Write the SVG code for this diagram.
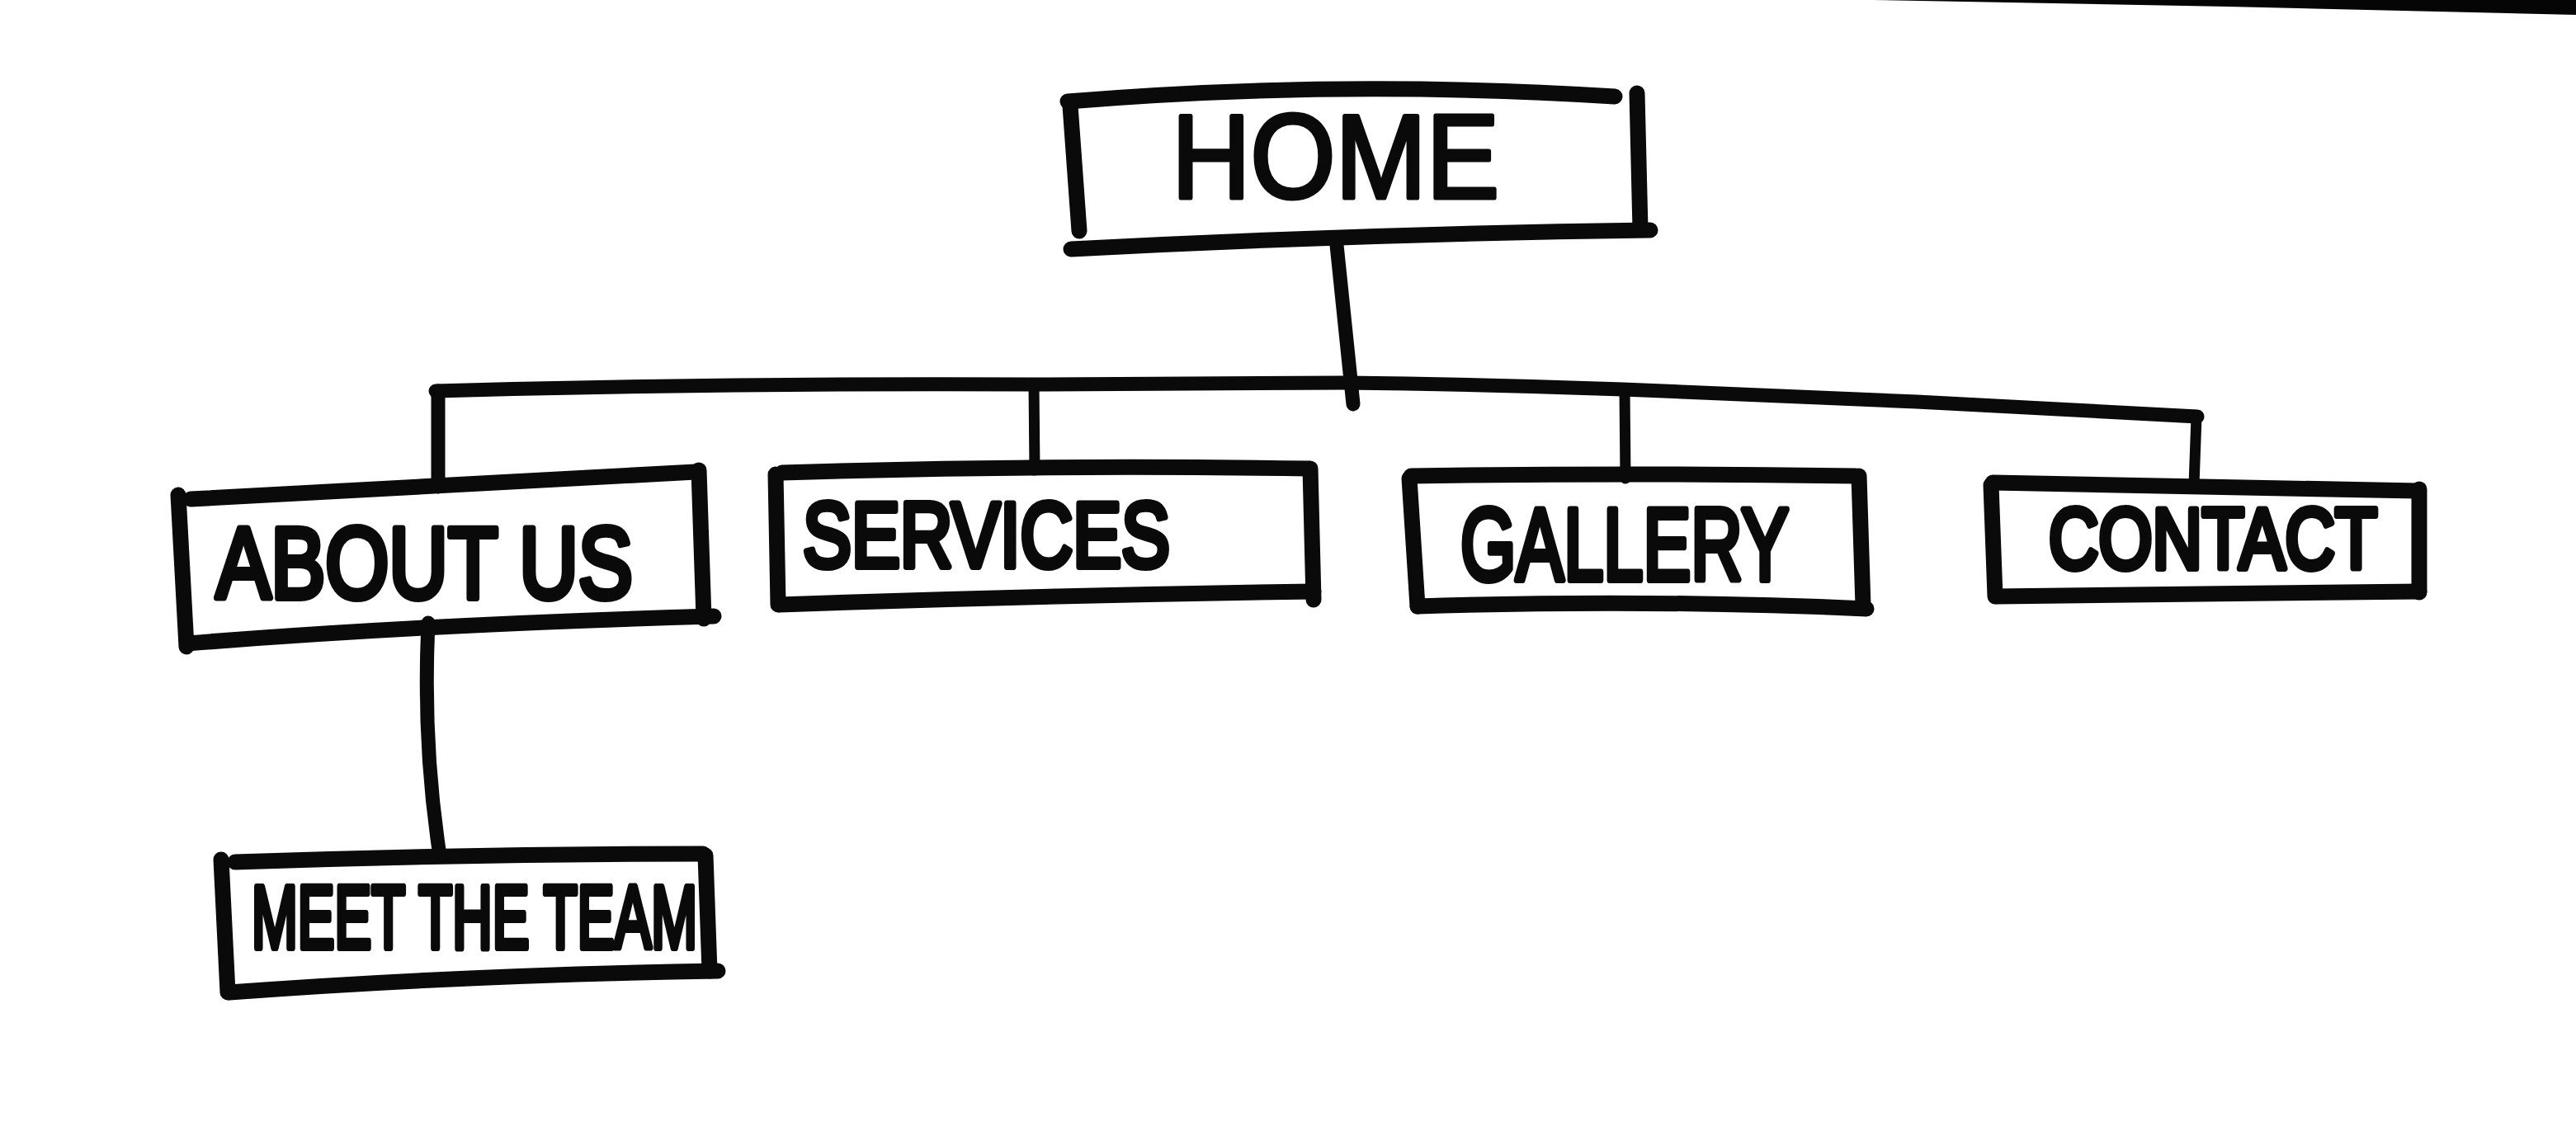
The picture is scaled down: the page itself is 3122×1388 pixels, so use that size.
<svg xmlns="http://www.w3.org/2000/svg" width="3122" height="1388" viewBox="0 0 3122 1388">
<style>
.box{fill:none;stroke:#0a0a0a;stroke-width:19;stroke-linecap:round;stroke-linejoin:round}
.con{fill:none;stroke:#0a0a0a;stroke-width:17;stroke-linecap:round;stroke-linejoin:round}
.thin{stroke-width:13}
.lbl{font-family:"Liberation Sans","DejaVu Sans",sans-serif;font-weight:normal;fill:#0a0a0a;stroke:#0a0a0a;stroke-width:8;stroke-linejoin:round;stroke-linecap:round}
</style>
<rect x="0" y="0" width="3122" height="1388" fill="#ffffff"/>
<polygon points="2270,0 3122,0 3122,18 2700,8" fill="#050505"/>
<g id="connectors">
<path class="con" d="M1620,297 L1640,490"/>
<path class="con" d="M528,474 Q900,464 1253,466 L1630,464 Q1800,466 1967,472 L2323,487 L2663,505"/>
<path class="con" d="M531,474 L531,590"/>
<path class="con thin" d="M1253,466 L1254,570"/>
<path class="con thin" d="M1969,472 L1970,580"/>
<path class="con thin" d="M2662,505 L2659,588"/>
<path class="con" d="M519,755 Q512,900 533,1037"/>
</g>
<g id="home">
<path class="box" d="M1294,123 Q1620,96 1957,117"/>
<path class="box" d="M1984,113 L1988,278"/>
<path class="box" d="M1298,302 Q1640,284 2000,279"/>
<path class="box" d="M1297,128 L1308,280"/>
<text class="lbl" style="stroke-width:5" x="1420" y="240" font-size="145" textLength="397" lengthAdjust="spacingAndGlyphs">HOME</text>
</g>
<g id="about-us">
<path class="box" d="M231,605 Q540,588 843,572"/>
<path class="box" d="M216,600 L226,784"/>
<path class="box" d="M847,570 L853,750"/>
<path class="box" d="M227,780 Q512,757 865,747"/>
<text class="lbl" x="262" y="725" font-size="122" textLength="505" lengthAdjust="spacingAndGlyphs">ABOUT US</text>
</g>
<g id="services">
<path class="box" d="M948,573 Q1260,563 1586,568"/>
<path class="box" d="M940,575 L943,733"/>
<path class="box" d="M1588,568 L1592,727"/>
<path class="box" d="M945,733 Q1260,722 1592,717"/>
<text class="lbl" x="973" y="687" font-size="112" textLength="445" lengthAdjust="spacingAndGlyphs">SERVICES</text>
</g>
<g id="gallery">
<path class="box" d="M1710,577 Q1980,573 2249,577"/>
<path class="box" d="M1708,580 L1718,735"/>
<path class="box" d="M2253,577 L2258,735"/>
<path class="box" d="M1718,735 Q1990,726 2262,738"/>
<text class="lbl" x="1770" y="703" font-size="124" textLength="398" lengthAdjust="spacingAndGlyphs">GALLERY</text>
</g>
<g id="contact">
<path class="box" d="M2415,585 Q2670,590 2929,595"/>
<path class="box" d="M2413,588 L2418,723"/>
<path class="box" d="M2932,593 L2932,718"/>
<path class="box" d="M2420,723 Q2680,720 2932,717"/>
<text class="lbl" x="2483" y="689" font-size="104" textLength="398" lengthAdjust="spacingAndGlyphs">CONTACT</text>
</g>
<g id="meet-the-team">
<path class="box" d="M285,1045 Q570,1035 852,1035"/>
<path class="box" d="M268,1042 L276,1203"/>
<path class="box" d="M855,1037 L860,1177"/>
<path class="box" d="M278,1203 Q560,1182 870,1177"/>
<text class="lbl" x="305" y="1149" font-size="108" textLength="540" lengthAdjust="spacingAndGlyphs">MEET THE TEAM</text>
</g>
</svg>
